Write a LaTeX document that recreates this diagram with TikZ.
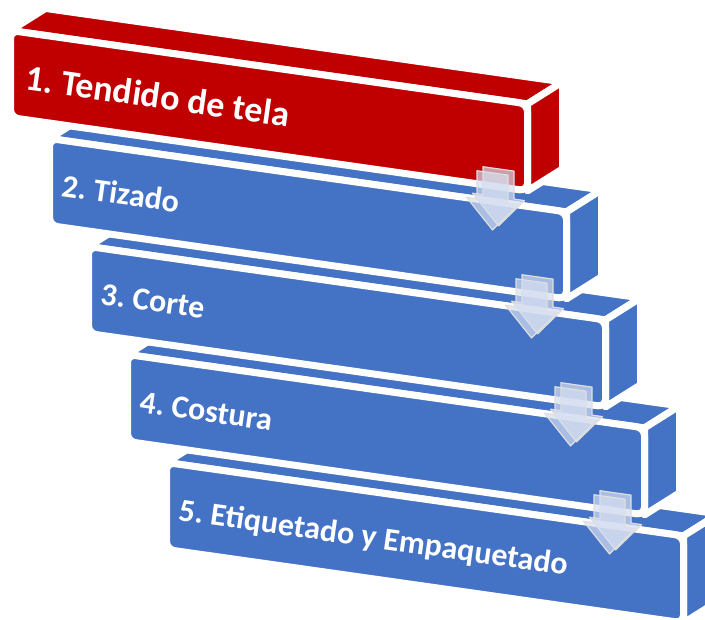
\documentclass[tikz,border=0pt]{standalone}
\usepackage{fontspec}
\setmainfont{Carlito}
\usepackage{tikz}
\frenchspacing
\definecolor{rojo}{RGB}{192,0,0}
\definecolor{azul}{RGB}{68,114,196}
\definecolor{flecha}{RGB}{214,222,240}
\tikzset{
  cara/.style={draw=white, line width=7pt, line join=round},
  frente/.style={cara, rounded corners=8pt},
  texto/.style={anchor=base west, inner sep=0pt, text=white, rotate=-8.08,
    font=\bfseries\fontsize{32}{36}\selectfont},
  flechita/.style={fill=flecha, fill opacity=0.7, draw=gray!25, line width=1.2pt, line join=round}
}

\begin{document}
\begin{tikzpicture}[x=1pt, y=-1pt]
    \useasboundingbox (0,0) rectangle (705,620);

    \begin{scope}[shift={(166.5,462.5)}, yslant=-0.142]
    \draw[cara, fill=azul] (0,0) -- (35,-27) -- (552,-27) -- (517,0) -- cycle;
    \draw[cara, fill=azul] (517,0) -- (552,-27) -- (552,60) -- (517,87) -- cycle;
    \draw[frente, fill=azul] (0,0) rectangle (517,87);
    \node[texto] (paso5) at (11,56) {5. Etiquetado y Empaquetado};
    \end{scope}

    \begin{scope}[shift={(127.5,354.5)}, yslant=-0.142]
    \draw[cara, fill=azul] (0,0) -- (35,-27) -- (552,-27) -- (517,0) -- cycle;
    \draw[cara, fill=azul] (517,0) -- (552,-27) -- (552,60) -- (517,87) -- cycle;
    \draw[frente, fill=azul] (0,0) rectangle (517,87);
    \node[texto] (paso4) at (11,56) {4. Costura};
    \end{scope}

    \begin{scope}[shift={(88.5,246.5)}, yslant=-0.142]
    \draw[cara, fill=azul] (0,0) -- (35,-27) -- (552,-27) -- (517,0) -- cycle;
    \draw[cara, fill=azul] (517,0) -- (552,-27) -- (552,60) -- (517,87) -- cycle;
    \draw[frente, fill=azul] (0,0) rectangle (517,87);
    \node[texto] (paso3) at (11,56) {3. Corte};
    \end{scope}

    \begin{scope}[shift={(49.5,138.5)}, yslant=-0.142]
    \draw[cara, fill=azul] (0,0) -- (35,-27) -- (552,-27) -- (517,0) -- cycle;
    \draw[cara, fill=azul] (517,0) -- (552,-27) -- (552,60) -- (517,87) -- cycle;
    \draw[frente, fill=azul] (0,0) rectangle (517,87);
    \node[texto] (paso2) at (11,56) {2. Tizado};
    \end{scope}

    \begin{scope}[shift={(10.5,30.5)}, yslant=-0.142]
    \draw[cara, fill=rojo] (0,0) -- (35,-27) -- (552,-27) -- (517,0) -- cycle;
    \draw[cara, fill=rojo] (517,0) -- (552,-27) -- (552,60) -- (517,87) -- cycle;
    \draw[frente, fill=rojo] (0,0) rectangle (517,87);
    \node[texto, font=\bfseries\fontsize{36}{40}\selectfont] (paso1) at (14,57) {1. Tendido de tela};
    \end{scope}

    \foreach \dx/\dy in {10.5/30.5, 49.5/138.5, 88.5/246.5, 127.5/354.5}{
    \begin{scope}[shift={(\dx,\dy)}, yslant=-0.142]
    \draw[flechita] (472.5,69.1) -- (503.5,69.1) -- (503.5,97.1) -- (514,97.1) -- (488,126.1)
        -- (462,97.1) -- (472.5,97.1) -- cycle;
    \draw[flechita] (466.5,74) -- (497.5,74) -- (497.5,102) -- (508,102) -- (482,131)
        -- (456,102) -- (466.5,102) -- cycle;
    \end{scope}
    }
\end{tikzpicture}
\end{document}
